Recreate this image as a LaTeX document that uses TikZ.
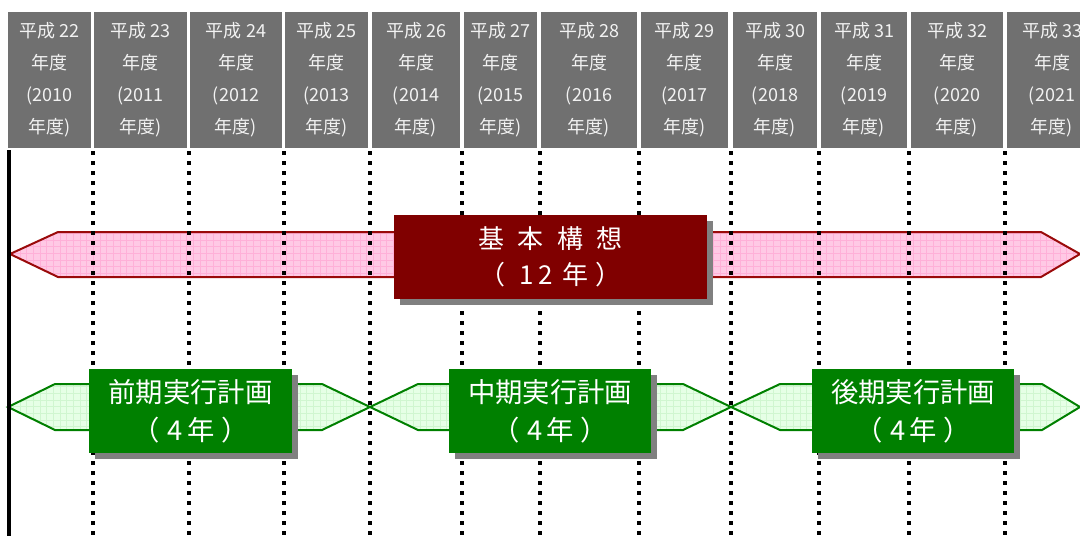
\documentclass[tikz,border=0pt]{standalone}
\usepackage{fontspec}
\setmainfont{Noto Sans CJK JP}
\usetikzlibrary{shadows}
\definecolor{hdrgray}{HTML}{707070}
\definecolor{hdrtext}{HTML}{F2F2F2}
\definecolor{maroonbox}{HTML}{800000}
\definecolor{maroonline}{HTML}{9A0A0A}
\definecolor{greenbox}{HTML}{008000}
\definecolor{pinkbase}{HTML}{FFC9E5}
\definecolor{pinkgrid}{HTML}{FFB0D8}
\definecolor{greenbase}{HTML}{E6FFE6}
\definecolor{greengrid}{HTML}{D0F6D0}
\definecolor{shadowgray}{HTML}{808080}
\tikzset{
  hdr/.style={fill=hdrgray, text=hdrtext, inner sep=0pt, minimum height=102pt,
    align=center, font=\fontsize{13.5pt}{24pt}\selectfont},
  dotline/.style={line width=2.6pt, dash pattern=on 3.3pt off 4.2pt, black},
  solidline/.style={line width=2.4pt, black},
  pinkarrow/.style={fill=pinkbase, draw=maroonline, line width=1.5pt, line join=miter,
    path picture={\draw[pinkgrid, line width=0.7pt, step=5pt]
      ([shift={(-5pt,-5pt)}]path picture bounding box.south west) grid
      ([shift={(5pt,5pt)}]path picture bounding box.north east);}},
  greenarrow/.style={fill=greenbase, draw=greenbox, line width=1.5pt, line join=miter,
    path picture={\draw[greengrid, line width=0.7pt, step=5pt]
      ([shift={(-5pt,-5pt)}]path picture bounding box.south west) grid
      ([shift={(5pt,5pt)}]path picture bounding box.north east);}},
  shadowed/.style={general shadow={fill=shadowgray, shadow xshift=4.5pt, shadow yshift=-4.5pt}},
  kihonbox/.style={shadowed, fill=maroonbox, text=white, inner sep=0pt,
    minimum width=234.75pt, minimum height=63pt, align=center,
    font=\fontsize{19.5pt}{27pt}\selectfont},
  planbox/.style={shadowed, fill=greenbox, text=white, inner sep=0pt,
    minimum width=152pt, minimum height=63pt, align=center,
    font=\fontsize{20.5pt}{28.5pt}\selectfont},
}
\begin{document}
\begin{tikzpicture}[x=0.75pt,y=-0.75pt]
\useasboundingbox (0,0) rectangle (1080,536);
% header cells
\foreach \l/\r/\a/\b [count=\i] in {8/91/22/2010,94/187/23/2011,190/282/24/2012,285/368/25/2013,372/460/26/2014,464/537/27/2015,541/637/28/2016,641/728/29/2017,733/817/30/2018,821/907/31/2019,911/1003/32/2020,1007/1097/33/2021}{
  \pgfmathsetmacro\w{(\r-\l)*0.75}
  \node[hdr, minimum width=\w pt] (h\i) at ({(\l+\r)/2},80) {平成 \a\\年度\\(\b\\年度)};
}
% pink arrow (basic concept)
\path[pinkarrow] (10,254) -- (58,232) -- (1041,232) -- (1080,254) -- (1041,277) -- (58,277) -- cycle;
% green arrows
\path[greenarrow] (8,407) -- (55,384) -- (322,384) -- (370,407) -- (322,430) -- (55,430) -- cycle;
\path[greenarrow] (370,407) -- (418,384) -- (683,384) -- (731,407) -- (683,430) -- (418,430) -- cycle;
\path[greenarrow] (731,407) -- (780,384) -- (1042,384) -- (1080,407) -- (1042,430) -- (780,430) -- cycle;
% vertical lines
\foreach \x in {93,189,284,370,462,540,639,731,819,909,1005}{
  \draw[dotline] (\x,151) -- (\x,536);
}
\draw[solidline] (9,150) -- (9,536);
% boxes
\node[kihonbox] (kihon) at (550.5,257) {基\hspace{10pt}本\hspace{10pt}構\hspace{10pt}想\\（\hspace{10pt}1\hspace{4pt}2\hspace{7pt}年\hspace{5pt}）};
\node[planbox] (zenki) at (190.5,411) {前期実行計画\\（\hspace{6pt}4\hspace{3pt}年\hspace{5pt}）};
\node[planbox] (chuki) at (550,411) {中期実行計画\\（\hspace{6pt}4\hspace{3pt}年\hspace{5pt}）};
\node[planbox] (koki) at (913,411) {後期実行計画\\（\hspace{6pt}4\hspace{3pt}年\hspace{5pt}）};
\end{tikzpicture}
\end{document}
